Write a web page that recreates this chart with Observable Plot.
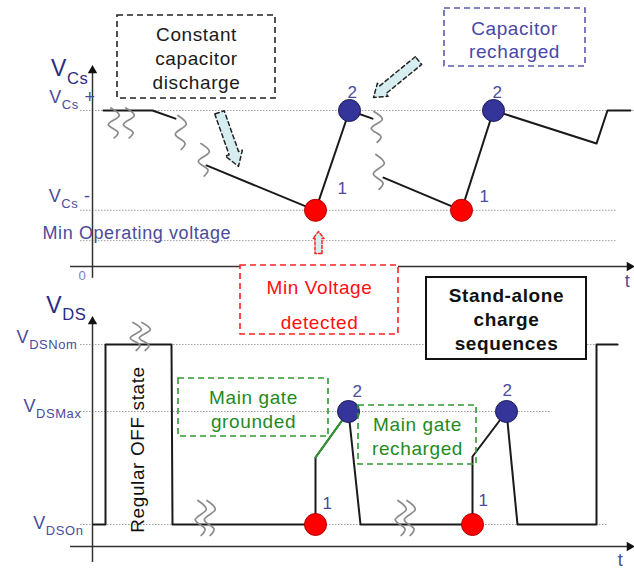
<!DOCTYPE html>
<html><head><meta charset="utf-8">
<script src="https://cdn.jsdelivr.net/npm/d3@7"></script>
<script src="https://cdn.jsdelivr.net/npm/@observablehq/plot@0.6"></script>
<style>
html,body{margin:0;padding:0;background:#fff;}
#chart{position:relative;width:634px;height:570px;overflow:hidden;background:#fff;}
#chart svg{display:block;}
#bottom{margin-top:-70px;}
</style></head><body><div id="chart"><div id="top"></div><div id="bottom"></div></div>
<script>
// ================= DATA =================
// --- Top panel: capacitor voltage VCs vs time t (arbitrary units) ---
const vcsLevels      = [5.0, 1.8, 0.83];           // VCs+, VCs-, Min operating voltage
const vcsLevelEnds   = [542, 525, 525];
const vcsTraceSeg    = [0, 0, 0, 1, 1, 1, 1, 2, 2, 2, 2, 2, 2];
const vcsTraceT      = [11, 60, 83, 114, 223, 257, 280, 291, 369, 401, 504, 515, 538];
const vcsTraceV      = [5, 5, 4.74, 3.24, 1.8, 5, 4.74, 2.85, 1.8, 5, 3.94, 5, 5];
const vcsDotT        = [223, 257, 369, 401];
const vcsDotV        = [1.8, 5, 1.8, 5];
const dotStep        = ["1", "2", "1", "2"];
const vcsNumT        = [250, 260, 392, 405];
const vcsNumV        = [2.5, 5.58, 2.24, 5.58];
const vcsBreakT      = [21, 36, 88, 111, 284, 286];
const vcsBreakTop    = [5.08, 5.08, 4.84, 3.94, 4.97, 3.59];
const vcsBreakBot    = [4.12, 4.12, 3.75, 2.90, 3.98, 2.47];

// --- Bottom panel: drain-source voltage VDS vs time t ---
const vdsNom = 10.1, vdsMax = 6.75, vdsOn = 1.1;
const vdsLevels      = [vdsNom, vdsMax, vdsOn];
const vdsLevelEnds   = [528, 458, 515];
const vdsTraceT      = [1, 13, 13, 79, 80, 223, 223, 256, 268, 380, 380, 414, 425, 504, 504, 525];
const vdsTraceV      = [vdsOn, vdsOn, vdsNom, vdsNom, vdsOn, vdsOn, 4.45, vdsMax, vdsOn, vdsOn, 4.5, vdsMax, vdsOn, vdsOn, vdsNom, vdsNom];
const vdsGreenT      = [223, 256];
const vdsGreenV      = [4.45, vdsMax];
const vdsDotT        = [223, 256, 380, 414];
const vdsDotV        = [vdsOn, vdsMax, vdsOn, vdsMax];
const vdsNumT        = [235, 265, 391, 415];
const vdsNumV        = [2.15, 7.75, 2.3, 7.8];
const vdsBreakT      = [43, 52, 108, 117, 308, 317];
const vdsBreakTop    = [11.2, 11.2, 2.3, 2.3, 2.3, 2.3];
const vdsBreakBot    = [9.8, 9.8, 0.55, 0.55, 0.55, 0.55];

// --- labels ---
const vcsAxisTitle   = "V{Cs}";
const vcsLabels      = ["V{Cs} +", "V{Cs} -", "Min Operating voltage"];
const vdsAxisTitle   = "V{DS}";
const vdsLabels      = ["V{DSNom}", "V{DSMax}", "V{DSOn}"];
const topBoxText     = ["Constant\ncapacitor\ndischarge", "Capacitor\nrecharged", "Min Voltage\ndetected"];
const botBoxText     = ["Stand-alone\ncharge\nsequences", "Main gate\ngrounded", "Main gate\nrecharged", "Regular OFF state"];

// ================= HELPERS =================
const kTop = 31.2, kBot = 20; // px per voltage unit
const FONT = "'Liberation Sans', Arial, Helvetica, sans-serif";
const SQ = [[0.3,0],[0.95,0.25],[0.1,0.55],[0.85,0.82],[0.55,1]];
function squiggles(ts, tops, bots, w = 13) {
  const out = [];
  ts.forEach((t, i) => SQ.forEach(([fx, fy]) => out.push({id: i, t: t + (fx - 0.5) * w, v: tops[i] + (bots[i] - tops[i]) * fy})));
  return out;
}
function arrowShape(id, t0, v0, t1, v1, bw, hw, hl, k) {
  const X0 = t0, Y0 = -v0 * k, X1 = t1, Y1 = -v1 * k;
  const dx = X1 - X0, dy = Y1 - Y0, L = Math.hypot(dx, dy), ux = dx / L, uy = dy / L, nx = -uy, ny = ux;
  const bx = X1 - ux * hl, by = Y1 - uy * hl;
  const P = [[X0 + nx*bw/2, Y0 + ny*bw/2], [bx + nx*bw/2, by + ny*bw/2], [bx + nx*hw/2, by + ny*hw/2], [X1, Y1],
             [bx - nx*hw/2, by - ny*hw/2], [bx - nx*bw/2, by - ny*bw/2], [X0 - nx*bw/2, Y0 - ny*bw/2], [X0 + nx*bw/2, Y0 + ny*bw/2]];
  return P.map(([x, y]) => ({id, t: x, v: -y / k}));
}
function subscripts(svg) {
  d3.select(svg).selectAll("text").each(function () {
    const s = this.textContent;
    const m = s.match(/^(.*?)\{(.*?)\}(.*)$/);
    if (!m) return;
    const el = d3.select(this); el.text(null);
    el.append("tspan").text(m[1]);
    el.append("tspan").attr("font-size", "0.72em").attr("dy", "0.45em").text(m[2]);
    if (m[3]) el.append("tspan").attr("dy", "-0.324em").text(m[3]);
  });
  return svg;
}
const zip = (a, b, c) => a.map((x, i) => ({t: x, v: b[i], k: c ? c[i] : undefined}));

const labelColor = "#4b4b9b", axisColor = "#333";
const svgStyle = {background: "transparent", overflow: "visible", fontFamily: FONT, letterSpacing: "0.6px"};

// ================= TOP PANEL =================
const traceTop = vcsTraceT.map((t, i) => ({t, v: vcsTraceV[i], seg: vcsTraceSeg[i]}));
const arrowsTopBlack = [...arrowShape(0, 127, 4.94, 146, 3.21, 10, 18, 14, kTop), ...arrowShape(1, 326, 6.60, 281, 5.42, 10, 17, 12, kTop)];
const arrowTopRed = arrowShape(0, 226, 0.42, 226, 1.12, 7, 11, 7, kTop);

const topSvg = Plot.plot({
  width: 634, height: 340, margin: 0,
  x: {domain: [-92, 542], axis: null},
  y: {domain: [-74 / kTop, 266 / kTop], axis: null},
  style: svgStyle,
  marks: [
    Plot.ruleY(vcsLevels, {y: d => d, x1: -12, x2: (d, i) => vcsLevelEnds[i], stroke: "#a0a0a0", strokeDasharray: "1.5,1.5"}),
    Plot.ruleX([0], {y1: -0.38, y2: 6.3, stroke: axisColor, strokeWidth: 1.5}),
    Plot.ruleY([0], {x1: -22, x2: 538, stroke: axisColor, strokeWidth: 1.5}),
    Plot.dot([{t: 0, v: 6.28}], {x: "t", y: "v", symbol: "triangle", r: 3.5, fill: "#111", stroke: "none"}),
    Plot.dot([{t: 537, v: 0}], {x: "t", y: "v", symbol: "triangle", r: 3.5, rotate: 90, fill: "#111", stroke: "none"}),
    Plot.line(traceTop, {x: "t", y: "v", z: "seg", stroke: "#1a1a1a", strokeWidth: 2}),
    Plot.line(squiggles(vcsBreakT, vcsBreakTop, vcsBreakBot), {x: "t", y: "v", z: "id", curve: "catmull-rom", stroke: "#8a8a8a", strokeWidth: 1.7}),
    Plot.line(arrowsTopBlack, {x: "t", y: "v", z: "id", fill: "#d6eef0", stroke: "#222", strokeWidth: 1.5, strokeDasharray: "4,3"}),
    Plot.line(arrowTopRed, {x: "t", y: "v", z: "id", fill: "#d6eef0", stroke: "#ff2020", strokeWidth: 1.5, strokeDasharray: "3,2"}),
    Plot.dot(zip(vcsDotT, vcsDotV, dotStep), {x: "t", y: "v", r: 11, fill: d => d.k === "1" ? "#ff0000" : "#34349a", stroke: d => d.k === "1" ? "#b00000" : "#1a1a5a", strokeWidth: 1}),
    Plot.text(zip(vcsNumT, vcsNumV, dotStep), {x: "t", y: "v", text: "k", fontSize: 17, fill: labelColor}),
    // boxes
    Plot.rect([{x1: 25, x2: 183, y1: 8.045, y2: 5.385}], {x1: "x1", x2: "x2", y1: "y1", y2: "y2", fill: "none", stroke: "#222", strokeWidth: 1.6, strokeDasharray: "6,4"}),
    Plot.text([{t: 104, v: 6.70, s: topBoxText[0]}], {x: "t", y: "v", text: "s", fontSize: 19, lineHeight: 1.27, fill: "#1a1a1a"}),
    Plot.rect([{x1: 352, x2: 493, y1: 8.27, y2: 6.41}], {x1: "x1", x2: "x2", y1: "y1", y2: "y2", fill: "none", stroke: "#5a5ab0", strokeWidth: 1.6, strokeDasharray: "6,4"}),
    Plot.text([{t: 422, v: 7.29, s: topBoxText[1]}], {x: "t", y: "v", text: "s", fontSize: 19, lineHeight: 1.22, fill: "#4848a8"}),
    Plot.rect([{x1: 148, x2: 306, y1: 0.03, y2: -2.18}], {x1: "x1", x2: "x2", y1: "y1", y2: "y2", fill: "white", stroke: "#ff2020", strokeWidth: 1.6, strokeDasharray: "6,4"}),
    Plot.text([{t: 227, v: -1.09, s: topBoxText[2]}], {x: "t", y: "v", text: "s", fontSize: 19, lineHeight: 1.8, fill: "#ff1010"}),
    // axis labels
    Plot.text([vcsAxisTitle], {x: -4, y: 6.33, text: d => d, textAnchor: "end", fontSize: 23, fill: "#2b2b80"}),
    Plot.text(vcsLabels.slice(0, 2), {x: (d, i) => [3, -2][i], y: (d, i) => [5.42, 2.24][i], text: d => d, textAnchor: "end", fontSize: 18, fill: labelColor}),
    Plot.text([vcsLabels[2]], {x: -50, y: 1.06, text: d => d, textAnchor: "start", fontSize: 18, fill: labelColor, letterSpacing: "1px"}),
    Plot.text(["0"], {x: -10, y: -0.29, text: d => d, fontSize: 13, fill: "#8080b8"}),
    Plot.text(["t"], {x: 535, y: -0.48, text: d => d, fontSize: 18, fill: labelColor})
  ]
});
document.getElementById("top").append(subscripts(topSvg));

// ================= BOTTOM PANEL =================
const traceBot = vdsTraceT.map((t, i) => ({t, v: vdsTraceV[i]}));
const greenBot = vdsGreenT.map((t, i) => ({t, v: vdsGreenV[i]}));

const botSvg = Plot.plot({
  width: 634, height: 300, margin: 0,
  x: {domain: [-92, 542], axis: null},
  y: {domain: [-24 / kBot, 276 / kBot], axis: null},
  style: svgStyle,
  marks: [
    Plot.ruleY(vdsLevels, {y: d => d, x1: -12, x2: (d, i) => vdsLevelEnds[i], stroke: "#a0a0a0", strokeDasharray: "1.5,1.5"}),
    Plot.ruleX([0], {y1: -0.8, y2: 11.3, stroke: axisColor, strokeWidth: 1.5}),
    Plot.ruleY([0], {x1: -22, x2: 538, stroke: axisColor, strokeWidth: 1.5}),
    Plot.dot([{t: 0, v: 11.25}], {x: "t", y: "v", symbol: "triangle", r: 3.5, fill: "#111", stroke: "none"}),
    Plot.dot([{t: 537, v: 0}], {x: "t", y: "v", symbol: "triangle", r: 3.5, rotate: 90, fill: "#111", stroke: "none"}),
    Plot.rect([{x1: 334, x2: 494, y1: 13.45, y2: 9.35}], {x1: "x1", x2: "x2", y1: "y1", y2: "y2", fill: "white", stroke: "#111", strokeWidth: 2}),
    Plot.line(traceBot, {x: "t", y: "v", stroke: "#1a1a1a", strokeWidth: 2}),
    Plot.line(greenBot, {x: "t", y: "v", stroke: "#2e9a2e", strokeWidth: 2}),
    Plot.line(squiggles(vdsBreakT, vdsBreakTop, vdsBreakBot), {x: "t", y: "v", z: "id", curve: "catmull-rom", stroke: "#8a8a8a", strokeWidth: 1.7}),
    Plot.dot(zip(vdsDotT, vdsDotV, dotStep), {x: "t", y: "v", r: 11, fill: d => d.k === "1" ? "#ff0000" : "#34349a", stroke: d => d.k === "1" ? "#b00000" : "#1a1a5a", strokeWidth: 1}),
    Plot.text(zip(vdsNumT, vdsNumV, dotStep), {x: "t", y: "v", text: "k", fontSize: 17, fill: labelColor}),
    Plot.text([{t: 414, v: 11.4, s: botBoxText[0]}], {x: "t", y: "v", text: "s", fontSize: 19, fontWeight: "bold", lineHeight: 1.27, fill: "#111"}),
    Plot.rect([{x1: 86, x2: 236, y1: 8.4, y2: 5.5}], {x1: "x1", x2: "x2", y1: "y1", y2: "y2", fill: "none", stroke: "#2e9a2e", strokeWidth: 1.6, strokeDasharray: "6,4"}),
    Plot.text([{t: 161, v: 6.9, s: botBoxText[1]}], {x: "t", y: "v", text: "s", fontSize: 19, lineHeight: 1.27, fill: "#1f8a1f"}),
    Plot.rect([{x1: 266, x2: 384, y1: 7.05, y2: 4.1}], {x1: "x1", x2: "x2", y1: "y1", y2: "y2", fill: "none", stroke: "#2e9a2e", strokeWidth: 1.6, strokeDasharray: "6,4"}),
    Plot.text([{t: 325, v: 5.55, s: botBoxText[2]}], {x: "t", y: "v", text: "s", fontSize: 19, lineHeight: 1.27, fill: "#1f8a1f"}),
    Plot.text([{t: 45, v: 4.85, s: botBoxText[3]}], {x: "t", y: "v", text: "s", fontSize: 19, rotate: -90, fill: "#111"}),
    Plot.text([vdsAxisTitle], {x: -6, y: 12.05, text: d => d, textAnchor: "end", fontSize: 23, fill: "#2b2b80"}),
    Plot.text(vdsLabels, {x: (d, i) => [-15, -11, -9][i], y: (d, i) => [10.45, 7.0, 1.15][i], text: d => d, textAnchor: "end", fontSize: 18, fill: labelColor}),
    Plot.text(["t"], {x: 528, y: -0.68, text: d => d, fontSize: 18, fill: labelColor})
  ]
});
document.getElementById("bottom").append(subscripts(botSvg));
</script></body></html>
